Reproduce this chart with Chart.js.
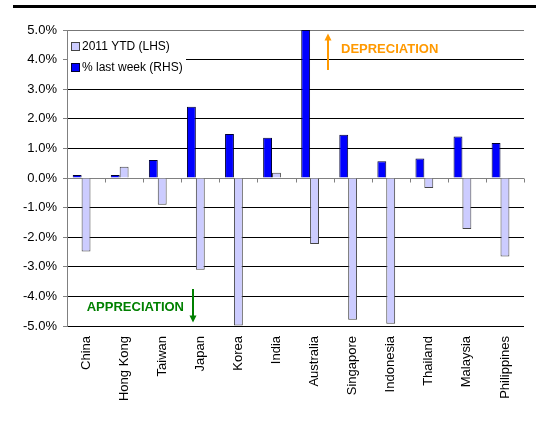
<!DOCTYPE html>
<html>
<head>
<meta charset="utf-8">
<script src="https://cdn.jsdelivr.net/npm/chart.js@4"></script>
<style>
  body { margin: 0; background: #fff; }
  #wrap { position: relative; width: 536px; height: 428px; }
  #topline { position: absolute; left: 13px; right: 0; top: 5px; height: 3px; background: #000; }
</style>
</head>
<body>
<div id="wrap">
  <div id="topline"></div>
  <canvas id="chart" width="536" height="428"></canvas>
</div>
<script>
const categories = ["China", "Hong Kong", "Taiwan", "Japan", "Korea", "India",
  "Australia", "Singapore", "Indonesia", "Thailand", "Malaysia", "Philippines"];
const lastWeek = [0.10, 0.10, 0.61, 2.41, 1.49, 1.36, 5.00, 1.46, 0.57, 0.66, 1.40, 1.18];
const ytd2011 = [-2.48, 0.38, -0.90, -3.10, -4.98, 0.18, -2.23, -4.79, -4.92, -0.34, -1.72, -2.65];
const yTicks = [-5, -4, -3, -2, -1, 0, 1, 2, 3, 4, 5];

const FONT = "'Liberation Sans', Arial, sans-serif";

function arrow(ctx, x, y1, y2, color) {
  // draws a line from y1 to y2 with a head at y2
  const dir = y2 > y1 ? 1 : -1;
  ctx.save();
  ctx.strokeStyle = color;
  ctx.fillStyle = color;
  ctx.lineWidth = 2;
  ctx.beginPath();
  ctx.moveTo(x, y1);
  ctx.lineTo(x, y2 - dir * 6);
  ctx.stroke();
  ctx.beginPath();
  ctx.moveTo(x, y2);
  ctx.lineTo(x - 3.5, y2 - dir * 7);
  ctx.lineTo(x + 3.5, y2 - dir * 7);
  ctx.closePath();
  ctx.fill();
  ctx.restore();
}

const extras = {
  id: "extras",
  beforeDatasetsDraw(chart) {
    const { ctx, chartArea, scales } = chart;
    const y = scales.y;
    const y0 = Math.round(y.getPixelForValue(0)) + 0.5;
    const n = categories.length;
    const catW = (chartArea.right - chartArea.left) / n;
    ctx.save();
    // zero axis with tick marks
    ctx.strokeStyle = "#808080";
    ctx.lineWidth = 1;
    ctx.beginPath();
    ctx.moveTo(chartArea.left, y0);
    ctx.lineTo(chartArea.right, y0);
    for (let i = 0; i <= n; i++) {
      const xx = Math.round(chartArea.left + i * catW) + 0.5;
      ctx.moveTo(xx, y0);
      ctx.lineTo(xx, y0 + 4);
    }
    ctx.stroke();

    // legend (reverse dataset order, like the reference)
    ctx.fillStyle = "#fff";
    ctx.fillRect(chartArea.left + 1, 33, 118, 46);
    const sets = chart.data.datasets.filter((ds) => ds.label).reverse();
    ctx.font = "12px " + FONT;
    ctx.textBaseline = "middle";
    sets.forEach((ds, i) => {
      const cy = 47 + i * 21;
      ctx.fillStyle = ds.backgroundColor;
      ctx.fillRect(71.5, cy - 4, 8, 8);
      ctx.strokeStyle = ds.borderColor;
      ctx.strokeRect(71.5, cy - 4.5, 8, 8);
      ctx.fillStyle = "#000";
      ctx.fillText(ds.label, 82, cy);
    });
    ctx.restore();
  },
  afterDatasetsDraw(chart) {
    const { ctx, chartArea, scales } = chart;
    const x = scales.x, y = scales.y;
    const catW = (chartArea.right - chartArea.left) / categories.length;
    ctx.save();
    ctx.font = "bold 13px " + FONT;
    ctx.textBaseline = "middle";

    // depreciation
    const ax = Math.round(x.getPixelForValue(6) + 0.36 * catW);
    arrow(ctx, ax, y.getPixelForValue(3.65), y.getPixelForValue(4.88), "#ff9900");
    ctx.fillStyle = "#ff9900";
    ctx.textAlign = "left";
    ctx.fillText("DEPRECIATION", ax + 13, y.getPixelForValue(4.33));

    // appreciation
    const bx = Math.round(x.getPixelForValue(3) - 0.18 * catW);
    arrow(ctx, bx, y.getPixelForValue(-3.75), y.getPixelForValue(-4.88), "#008000");
    ctx.fillStyle = "#008000";
    ctx.textAlign = "right";
    ctx.fillText("APPRECIATION", bx - 9, y.getPixelForValue(-4.36));
    ctx.restore();
  }
};

new Chart(document.getElementById("chart"), {
  type: "bar",
  data: {
    labels: categories,
    datasets: [
      {
        label: "% last week (RHS)",
        data: lastWeek,
        backgroundColor: "#0000ff",
        borderColor: "#000033",
        borderWidth: 1,
      },
      {
        label: "2011 YTD (LHS)",
        data: ytd2011,
        backgroundColor: "#ccccff",
        borderColor: "#444444",
        borderWidth: 1,
      },
      {
        // empty slot so the bar pair sits left of the category centre, as in Excel
        label: "",
        data: categories.map(() => null),
      },
    ],
  },
  options: {
    responsive: false,
    animation: false,
    layout: { padding: { top: 30, right: 12, left: 0, bottom: 0 } },
    datasets: {
      bar: { categoryPercentage: 0.7, barPercentage: 1.0 },
    },
    plugins: {
      legend: { display: false },
      tooltip: { enabled: false },
    },
    scales: {
      x: {
        grid: { display: false },
        border: { display: false },
        ticks: {
          color: "#000",
          font: { family: FONT, size: 13 },
          maxRotation: 90,
          minRotation: 90,
          autoSkip: false,
          padding: 2,
        },
        afterFit: function (scale) {
          scale.height = 102;
        },
      },
      y: {
        min: -5,
        max: 5,
        afterBuildTicks: function (scale) {
          scale.ticks = yTicks.map((v) => ({ value: v }));
        },
        grid: {
          color: function (c) {
            return c.tick && c.tick.value === 5 ? "#777" : "#000";
          },
          tickColor: "#808080",
          tickLength: 4,
        },
        border: { display: true, color: "#808080" },
        ticks: {
          color: "#000",
          font: { family: FONT, size: 13 },
          padding: 6,
          callback: function (v) {
            return v.toFixed(1) + "%";
          },
        },
        afterFit: function (scale) {
          scale.width = 67;
        },
      },
    },
  },
  plugins: [extras],
});
</script>
</body>
</html>
